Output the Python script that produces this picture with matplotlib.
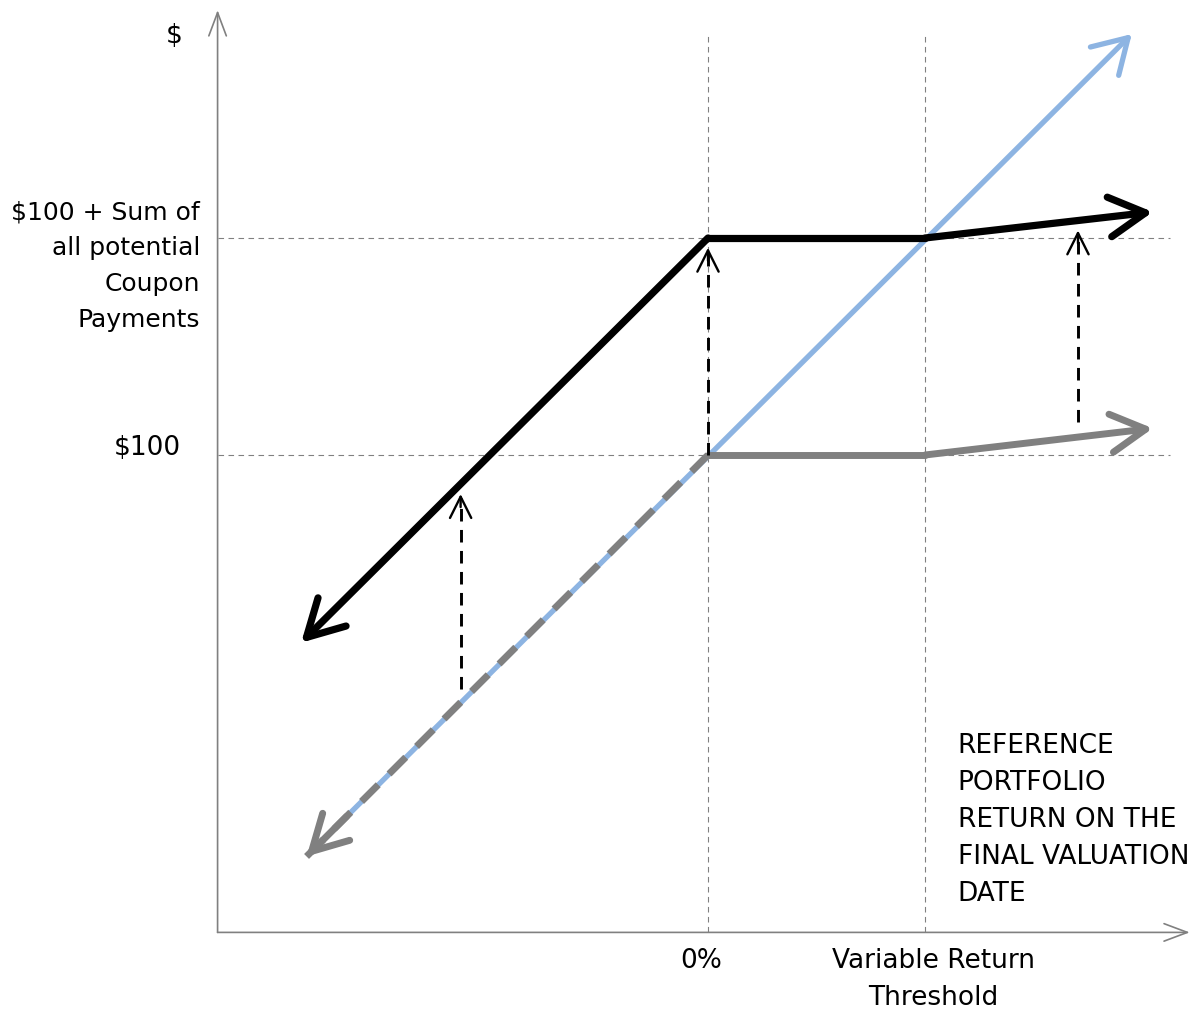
import matplotlib
matplotlib.use("Agg")
import matplotlib.pyplot as plt
from matplotlib.patches import FancyArrowPatch

# schematic payoff values (x: return units, y: $ value)
zero_ret = 0
threshold_ret = 100
par_value = 100
cap_value = 200   # $100 + sum of all potential coupons

axis_x = -226     # where the y axis sits
axis_y = -120     # where the x axis sits
axis_top = 305
axis_right = 222
grid_right = 213
grid_top = 294

note_x = [-187.5, 0, 100, 205]          # black: note payoff
note_y = [13.5, 200, 200, 212]
floor_x = [-185, 0, 100, 205]           # gray: $100 floor payoff
floor_y = [-85, 100, 100, 112.3]
port_x = [-180, 195.3]                  # blue: reference portfolio
port_y = [-80, 294]

uplift_x = [-114, 0, 170.5]             # dashed uplift arrows
uplift_lo = [-8, 100, 115]
uplift_hi = [82, 195.5, 203.5]

BLUE = "#8DB4E2"
GRAY = "#808080"
FONT = ["DejaVu Sans"]
FS = 19
LS = 1.55

s = 2.17  # pixels per unit
fig = plt.figure(figsize=(11.99, 10.15), dpi=100)
ax = fig.add_axes([0, 0, 1, 1])
ax.set_xlim(-708 / s, 491 / s)
ax.set_ylim(100 - 560 / s, 100 + 455 / s)
ax.axis("off")


def arrow(x0, y0, x1, y1, color, lw, hl=1.0, hw=0.55, ms=20, z=3):
    a = FancyArrowPatch((x0, y0), (x1, y1),
                        arrowstyle=f"->,head_length={hl},head_width={hw}",
                        mutation_scale=ms, color=color, lw=lw,
                        capstyle="round", joinstyle="round",
                        shrinkA=0, shrinkB=0, zorder=z)
    ax.add_patch(a)


def head_on(xa, ya, xb, yb, color, lw, frac=0.08, **kw):
    # short solid segment carrying only the arrow head, at (xb, yb)
    xs = xb - (xb - xa) * frac
    ys = yb - (yb - ya) * frac
    arrow(xs, ys, xb, yb, color, lw, **kw)


# axes with arrows
arrow(axis_x, axis_y, axis_x, axis_top, GRAY, 1.2, hl=1.2, hw=0.45, ms=14, z=1)
arrow(axis_x, axis_y, axis_right, axis_y, GRAY, 1.2, hl=1.2, hw=0.45, ms=14, z=1)

# reference gridlines
for yv in (par_value, cap_value):
    ax.plot([axis_x, grid_right], [yv, yv], color=GRAY, lw=0.8,
            dashes=(5, 4), zorder=1)
for xv in (zero_ret, threshold_ret):
    ax.plot([xv, xv], [axis_y, grid_top], color=GRAY, lw=0.8,
            dashes=(5, 4), zorder=1)

# blue reference portfolio line
arrow(port_x[0], port_y[0], port_x[1], port_y[1], BLUE, 3.8, hl=1.0, hw=0.6, ms=24, z=2)

# gray floor payoff: dashed over blue on the downside, solid elsewhere
ax.plot(floor_x[:2], floor_y[:2], color=GRAY, lw=5, dashes=(3.4, 2.2),
        solid_capstyle="butt", zorder=3)
head_on(floor_x[1], floor_y[1], floor_x[0], floor_y[0], GRAY, 5, frac=0.1, ms=25)
ax.plot(floor_x[1:3], floor_y[1:3], color=GRAY, lw=5,
        solid_capstyle="round", zorder=3)
arrow(floor_x[2], floor_y[2], floor_x[3], floor_y[3], GRAY, 5, ms=25)

# black note payoff
arrow(note_x[1], note_y[1], note_x[0], note_y[0], "black", 5.2, ms=26, z=4)
ax.plot(note_x[1:3], note_y[1:3], color="black", lw=5.2,
        solid_capstyle="round", zorder=4)
arrow(note_x[2], note_y[2], note_x[3], note_y[3], "black", 5.2, ms=26, z=4)

# dashed uplift arrows
for xv, lo, hi in zip(uplift_x, uplift_lo, uplift_hi):
    ax.plot([xv, xv], [lo, hi - 2], color="black", lw=2.1, dashes=(4.3, 2.9), zorder=5)
    arrow(xv, hi - 6, xv, hi, "black", 1.7, hl=0.9, hw=0.45, ms=17, z=5)

# labels
ax.text(axis_x - 20, axis_top - 12, "$", ha="center", va="center",
        fontsize=FS, family=FONT)
ax.text(axis_x - 8, cap_value - 13, "$100 + Sum of\nall potential\nCoupon\nPayments",
        ha="right", va="center", fontsize=FS - 1, family=FONT, linespacing=LS + 0.08)
ax.text(axis_x - 17, par_value + 3, "$100", ha="right", va="center",
        fontsize=FS, family=FONT)
ax.text(zero_ret - 3, axis_y - 13, "0%", ha="center", va="center",
        fontsize=FS, family=FONT)
ax.text(threshold_ret + 4, axis_y - 21.5, "Variable Return\nThreshold",
        ha="center", va="center", fontsize=FS, family=FONT, linespacing=LS)
ax.text(threshold_ret + 15, -68, "REFERENCE\nPORTFOLIO\nRETURN ON THE\nFINAL VALUATION\nDATE",
        ha="left", va="center", fontsize=FS, family=FONT, linespacing=LS)

fig.savefig("out.png", dpi=100)
